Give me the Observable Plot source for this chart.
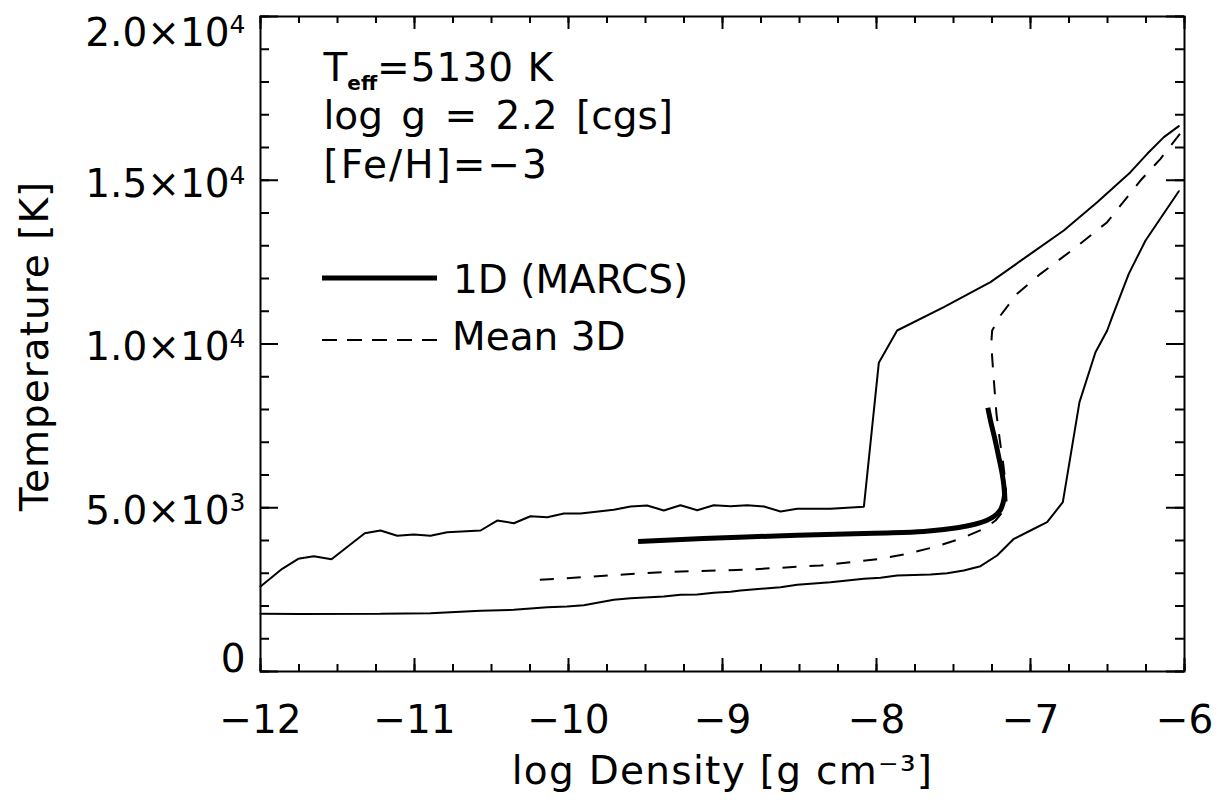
<!DOCTYPE html>
<html>
<head>
<meta charset="utf-8">
<script src="https://cdn.jsdelivr.net/npm/d3@7"></script>
<script src="https://cdn.jsdelivr.net/npm/@observablehq/plot@0.6"></script>
<style>
  html, body { margin: 0; padding: 0; background: #fff; }
  #chart { width: 1222px; height: 800px; }
</style>
</head>
<body>
<div id="chart"></div>
<script>
// ---------- data ----------
// Upper envelope of 3D model
const upperLogRho = [-12.000, -11.859, -11.755, -11.654, -11.539, -11.323, -11.221, -11.112, -11.005, -10.896,
  -10.788, -10.571, -10.463, -10.355, -10.247, -10.138, -10.030, -9.922, -9.706, -9.597,
  -9.489, -9.381, -9.273, -9.164, -9.057, -8.948, -8.840, -8.731, -8.623, -8.515, -8.299, -8.082,
  -7.985, -7.866, -7.563, -7.260, -7.000, -6.784, -6.567, -6.351, -6.242, -6.134, -6.037];
const upperTemp = [2595, 3135, 3441, 3520, 3429, 4222, 4305, 4143, 4183, 4143,
  4253, 4305, 4610, 4528, 4741, 4711, 4824, 4824, 4937, 5037,
  5068, 4915, 5077, 4924, 5077, 5047, 5077, 5040, 4885, 4967, 4967, 5028,
  9425, 10412, 11124, 11888, 12753, 13465, 14331, 15247, 15807, 16316, 16651];

// Lower envelope of 3D model
const lowerLogRho = [-12.000, -11.740, -11.221, -10.896, -10.571, -10.355, -10.138, -10.010, -9.901, -9.706,
  -9.597, -9.381, -9.273, -9.164, -9.057, -8.948, -8.883, -8.623, -8.515, -8.299,
  -8.082, -7.974, -7.866, -7.649, -7.541, -7.433, -7.325, -7.217, -7.108, -7.000,
  -6.892, -6.790, -6.682, -6.578, -6.502, -6.470, -6.362, -6.253, -6.037];
const lowerTemp = [1761, 1752, 1761, 1781, 1853, 1883, 1964, 1984, 2025, 2188,
  2239, 2290, 2341, 2351, 2402, 2432, 2473, 2575, 2646, 2727,
  2830, 2860, 2931, 2962, 3002, 3084, 3216, 3542, 4051, 4305,
  4560, 5170, 8224, 9750, 10412, 10819, 12142, 13160, 14666];

// Mean 3D
const meanLogRho = [-10.186, -9.900, -9.641, -9.360, -8.850, -8.364, -8.169, -7.974, -7.801, -7.628,
  -7.455, -7.303, -7.227, -7.173, -7.156, -7.162, -7.177, -7.199, -7.221, -7.238,
  -7.255, -7.249, -7.195, -7.087, -6.935, -6.719, -6.502, -6.286, -6.156, -6.004];
const meanTemp = [2799, 2880, 2962, 3043, 3108, 3237, 3338, 3440, 3593, 3796,
  4051, 4356, 4611, 4916, 5221, 5730, 6341, 7053, 7868, 8885,
  10005, 10412, 10870, 11532, 12142, 12906, 13720, 14992, 15654, 16570];

// 1D MARCS
const marcsLogRho = [-9.548, -8.850, -8.017, -7.693, -7.476, -7.368, -7.303, -7.238, -7.195, -7.177,
  -7.169, -7.173, -7.184, -7.206, -7.234, -7.260, -7.277];
const marcsTemp = [3969, 4110, 4224, 4275, 4387, 4489, 4580, 4733, 4936, 5170,
  5374, 5679, 6036, 6544, 7155, 7664, 8051];

// Axes
const xTicks = [-12, -11, -10, -9, -8, -7, -6];
const xTickLabels = ["\u221212", "\u221211", "\u221210", "\u22129", "\u22128", "\u22127", "\u22126"];
const yTicks = [0, 5000, 10000, 15000, 20000];
const yTickLabels = ["0", "5.0\u00d710\u00b3", "1.0\u00d710\u2074", "1.5\u00d710\u2074", "2.0\u00d710\u2074"];
const xTitle = "log Density [g cm\u207b\u00b3]";
const yTitle = "Temperature [K]";
const annotations = ["Teff=5130 K", "log g = 2.2 [cgs]", "[Fe/H]=\u22123"];
const legendLabels = ["1D (MARCS)", "Mean 3D"];

// ---------- build tables ----------
const zip = (xs, ts) => xs.map((x, i) => ({x, t: ts[i]}));
const upper = zip(upperLogRho, upperTemp);
const lower = zip(lowerLogRho, lowerTemp);
const mean3d = zip(meanLogRho, meanTemp);
const marcs = zip(marcsLogRho, marcsTemp);
const xLab = xTicks.map((v, i) => ({v, label: xTickLabels[i]}));
const yLab = yTicks.map((v, i) => ({v, label: yTickLabels[i]}));

const xMinor = d3.range(-12, -5.999, 0.25);
const yMinor = d3.range(0, 20001, 1000);

const FW = 924, FH = 655; // frame size
const ink = "black";

const chart = Plot.plot({
  width: 1222,
  height: 800,
  marginLeft: 260,
  marginRight: 38,
  marginTop: 16,
  marginBottom: 129,
  style: {fontFamily: "'DejaVu Sans', sans-serif", fontSize: "39px", background: "white", color: "black"},
  x: {domain: [-12, -6], axis: null},
  y: {domain: [0, 20000], axis: null},
  marks: [
    Plot.line(upper, {x: "x", y: "t", stroke: ink, strokeWidth: 2, strokeLinejoin: "miter"}),
    Plot.line(lower, {x: "x", y: "t", stroke: ink, strokeWidth: 2, strokeLinejoin: "miter"}),
    Plot.line(mean3d, {x: "x", y: "t", stroke: ink, strokeWidth: 2, strokeDasharray: "14,13", strokeLinecap: "butt"}),
    Plot.line(marcs, {x: "x", y: "t", stroke: ink, strokeWidth: 5, strokeLinecap: "butt", curve: "catmull-rom"}),
    Plot.frame({stroke: ink, strokeWidth: 2}),
    // minor ticks
    Plot.tickX(xMinor, {x: d => d, stroke: ink, strokeWidth: 2, insetTop: FH - 7}),
    Plot.tickX(xMinor, {x: d => d, stroke: ink, strokeWidth: 2, insetBottom: FH - 7}),
    Plot.tickY(yMinor, {y: d => d, stroke: ink, strokeWidth: 2, insetRight: FW - 9}),
    Plot.tickY(yMinor, {y: d => d, stroke: ink, strokeWidth: 2, insetLeft: FW - 9}),
    // major ticks
    Plot.tickX(xTicks, {x: d => d, stroke: ink, strokeWidth: 2, insetTop: FH - 13}),
    Plot.tickX(xTicks, {x: d => d, stroke: ink, strokeWidth: 2, insetBottom: FH - 13}),
    Plot.tickY(yTicks, {y: d => d, stroke: ink, strokeWidth: 2, insetRight: FW - 18}),
    Plot.tickY(yTicks, {y: d => d, stroke: ink, strokeWidth: 2, insetLeft: FW - 18}),
    // x tick labels
    Plot.text(xLab, {x: "v", text: "label", frameAnchor: "bottom", lineAnchor: "bottom", dy: 61, fill: ink}),
    // y tick labels
    Plot.text(yLab.filter(d => d.v === yTicks[0]), {y: "v", text: "label", frameAnchor: "left", textAnchor: "end", lineAnchor: "bottom", dx: -15, fill: ink}),
    Plot.text(yLab.filter(d => d.v !== yTicks[0] && d.v !== yTicks[yTicks.length - 1]), {y: "v", text: "label", frameAnchor: "left", textAnchor: "end", lineAnchor: "middle", dx: -15, dy: 4, fill: ink}),
    Plot.text(yLab.filter(d => d.v === yTicks[yTicks.length - 1]), {y: "v", text: "label", frameAnchor: "left", textAnchor: "end", lineAnchor: "top", dx: -15, dy: 2, fill: ink}),
    // axis titles
    Plot.text([xTitle], {text: d => d, frameAnchor: "bottom", textAnchor: "middle", lineAnchor: "bottom", dy: 112, fill: ink}),
    Plot.text([yTitle], {text: d => d, frameAnchor: "left", textAnchor: "middle", rotate: -90, lineAnchor: "bottom", dx: -213, dy: 2, fill: ink}),
    // annotations
    Plot.text([annotations[0]], {text: d => d, frameAnchor: "top-left", textAnchor: "start", lineAnchor: "bottom", dx: 63, dy: 64, fill: ink}),
    Plot.text([annotations[1]], {text: d => d, frameAnchor: "top-left", textAnchor: "start", lineAnchor: "bottom", dx: 63, dy: 112, fill: ink}),
    Plot.text([annotations[2]], {text: d => d, frameAnchor: "top-left", textAnchor: "start", lineAnchor: "bottom", dx: 63, dy: 161, fill: ink})
  ]
});

const svg = d3.select(chart);
const byText = s => svg.selectAll("text").filter(function () { return this.textContent === s; });

// letter / word spacing tweaks
byText(xTitle).attr("letter-spacing", 1.3);
byText(yTitle).attr("letter-spacing", 1);
byText(annotations[1]).attr("word-spacing", 6);
byText(annotations[2]).attr("letter-spacing", 2);

// T_eff with bold subscript
byText(annotations[0]).each(function () {
  const t = d3.select(this);
  t.text(null);
  t.append("tspan").text("T");
  t.append("tspan").attr("font-size", 20).attr("font-weight", "bold").attr("dy", 9).text("eff");
  t.append("tspan").attr("dy", -9).attr("letter-spacing", 1).text("=5130 K");
});

// larger raised exponents on y tick labels
yTickLabels.forEach(lbl => {
  const m = lbl.match(/^(.*10)([\u00b3\u2074])$/);
  if (!m) return;
  const sup = m[2] === "\u00b3" ? "3" : "4";
  byText(lbl).each(function () {
    const t = d3.select(this);
    t.text(null);
    t.append("tspan").text(m[1]);
    t.append("tspan").attr("font-size", 25).attr("dy", -13).text(sup);
  });
});

// legend inside the frame
const lg = svg.append("g").attr("aria-label", "legend").attr("text-anchor", "start").attr("fill", ink);
lg.append("line").attr("x1", 322).attr("x2", 437).attr("y1", 278).attr("y2", 278)
  .attr("stroke", ink).attr("stroke-width", 5);
lg.append("text").attr("x", 453).attr("y", 293).text(legendLabels[0]);
lg.append("line").attr("x1", 322).attr("x2", 437).attr("y1", 340).attr("y2", 340)
  .attr("stroke", ink).attr("stroke-width", 2).attr("stroke-dasharray", "15,10");
lg.append("text").attr("x", 452).attr("y", 350).text(legendLabels[1]);

document.getElementById("chart").appendChild(chart);
</script>
</body>
</html>
